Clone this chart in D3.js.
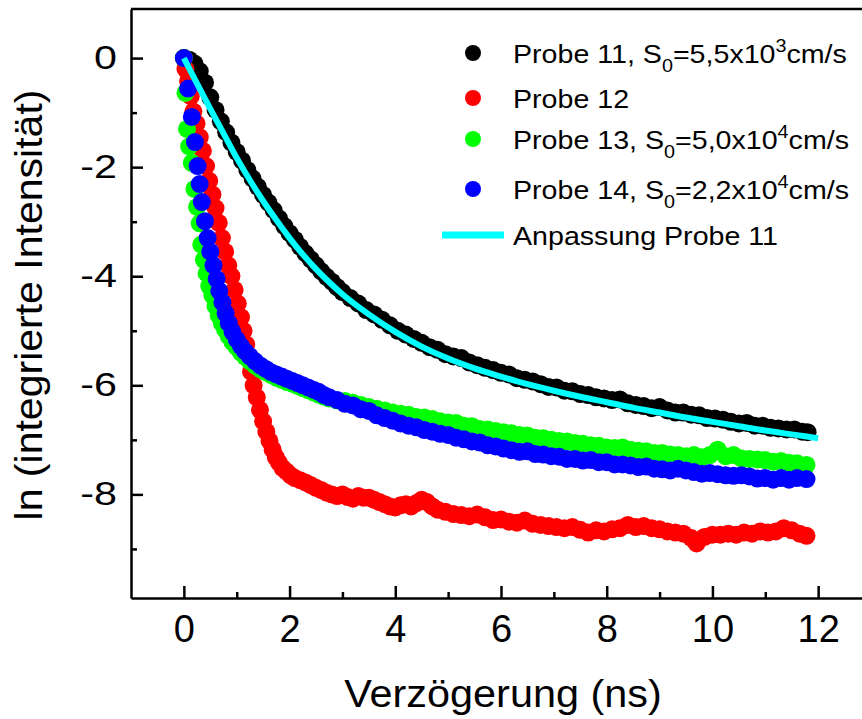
<!DOCTYPE html>
<html>
<head>
<meta charset="utf-8">
<script src="https://cdn.jsdelivr.net/npm/d3@7"></script>
<style>
  body { margin: 0; background: #fff; }
  svg { display: block; font-family: "Liberation Sans", Arial, sans-serif; }
</style>
</head>
<body>
<div id="chart"></div>
<script>
let width = 862, height = 719;

// tick values
const xTicks = [0, 2, 4, 6, 8, 10, 12];
const xMinor = [1, 3, 5, 7, 9, 11];
const yTicks = [0, -2, -4, -6, -8];
const yMinor = [-1, -3, -5, -7, -9];

// [delay (ns), ln(integrated intensity)]
const probe11 = [[0,0],[0.1,-0.03],[0.2,-0.1],[0.3,-0.24],[0.4,-0.45],[0.5,-0.72],[0.6,-0.95],[0.7,-1.16],[0.8,-1.36],[0.9,-1.55],
  [1.0,-1.72],[1.1,-1.88],[1.2,-2.05],[1.3,-2.21],[1.4,-2.36],[1.5,-2.51],[1.6,-2.65],[1.7,-2.79],[1.8,-2.94],[1.9,-3.08],
  [2.0,-3.21],[2.1,-3.33],[2.2,-3.46],[2.3,-3.58],[2.4,-3.69],[2.5,-3.8],[2.6,-3.91],[2.7,-4.01],[2.8,-4.1],[2.9,-4.2],[3.0,-4.29],
  [3.15,-4.4],[3.3,-4.5],[3.45,-4.62],[3.6,-4.7],[3.75,-4.8],[3.9,-4.9],[4.05,-5.0],[4.2,-5.07],[4.35,-5.15],[4.5,-5.22],
  [4.65,-5.3],[4.8,-5.35],[4.95,-5.43],[5.1,-5.47],[5.25,-5.5],[5.4,-5.58],[5.55,-5.63],[5.7,-5.68],[5.85,-5.72],[6.0,-5.77],
  [6.15,-5.8],[6.3,-5.87],[6.45,-5.9],[6.6,-5.93],[6.75,-5.98],[6.9,-6.03],[7.05,-6.04],[7.2,-6.1],[7.35,-6.11],[7.5,-6.16],
  [7.65,-6.18],[7.8,-6.22],[7.95,-6.24],[8.1,-6.27],[8.25,-6.26],[8.4,-6.33],[8.55,-6.36],[8.7,-6.38],[8.85,-6.42],[9.0,-6.4],
  [9.15,-6.46],[9.3,-6.5],[9.45,-6.5],[9.6,-6.54],[9.75,-6.55],[9.9,-6.6],[10.05,-6.61],[10.2,-6.63],[10.35,-6.67],[10.5,-6.7],
  [10.65,-6.69],[10.8,-6.74],[10.95,-6.74],[11.1,-6.78],[11.25,-6.79],[11.4,-6.81],[11.55,-6.81],[11.7,-6.85],[11.8,-6.86]];

const probe12 = [[0,0],[0.03,-0.2],[0.08,-0.42],[0.13,-0.7],[0.18,-0.98],[0.24,-1.2],[0.3,-1.45],[0.36,-1.7],[0.42,-1.98],[0.48,-2.25],
  [0.54,-2.5],[0.6,-2.75],[0.66,-3.02],[0.72,-3.3],[0.78,-3.55],[0.84,-3.8],[0.9,-4.0],[0.96,-4.25],[1.02,-4.5],[1.08,-4.75],
  [1.13,-5.0],[1.18,-5.25],[1.22,-5.5],[1.27,-5.75],[1.32,-6.0],[1.38,-6.22],[1.44,-6.45],[1.5,-6.66],[1.56,-6.85],[1.62,-7.02],
  [1.68,-7.18],[1.74,-7.32],[1.8,-7.42],[1.87,-7.52],[1.94,-7.58],[2.02,-7.65],[2.1,-7.7],[2.2,-7.74],[2.3,-7.78],[2.4,-7.83],
  [2.5,-7.88],[2.6,-7.92],[2.7,-7.97],[2.8,-8.0],[2.9,-8.03],[3.0,-8.0],[3.1,-8.05],[3.2,-8.08],[3.3,-8.03],[3.4,-8.06],
  [3.5,-8.06],[3.6,-8.1],[3.7,-8.14],[3.8,-8.18],[3.9,-8.22],[4.0,-8.24],[4.1,-8.2],[4.2,-8.18],[4.3,-8.22],[4.4,-8.16],
  [4.5,-8.1],[4.6,-8.14],[4.7,-8.22],[4.8,-8.28],[4.95,-8.32],[5.1,-8.36],[5.25,-8.38],[5.4,-8.4],[5.55,-8.37],[5.7,-8.42],
  [5.85,-8.47],[6.0,-8.46],[6.15,-8.5],[6.3,-8.52],[6.45,-8.48],[6.6,-8.54],[6.75,-8.56],[6.9,-8.58],[7.05,-8.6],[7.2,-8.62],
  [7.35,-8.6],[7.5,-8.65],[7.65,-8.7],[7.8,-8.66],[7.95,-8.68],[8.1,-8.64],[8.25,-8.62],[8.4,-8.56],[8.55,-8.6],[8.7,-8.58],
  [8.85,-8.62],[9.0,-8.64],[9.15,-8.68],[9.3,-8.7],[9.45,-8.72],[9.6,-8.8],[9.7,-8.9],[9.85,-8.78],[10.0,-8.74],[10.15,-8.74],
  [10.3,-8.72],[10.45,-8.74],[10.6,-8.7],[10.75,-8.72],[10.9,-8.68],[11.05,-8.7],[11.2,-8.68],[11.35,-8.62],[11.5,-8.66],[11.65,-8.72],
  [11.78,-8.76]];

const probe13 = [[0,0],[0.03,-0.64],[0.06,-1.3],[0.1,-1.62],[0.15,-1.92],[0.2,-2.4],[0.25,-2.73],[0.3,-3.03],[0.33,-3.42],[0.38,-3.7],
  [0.43,-3.95],[0.48,-4.18],[0.54,-4.35],[0.6,-4.55],[0.66,-4.72],[0.72,-4.86],[0.78,-4.98],[0.85,-5.1],[0.92,-5.21],[1.0,-5.3],
  [1.08,-5.4],[1.16,-5.48],[1.25,-5.56],[1.35,-5.64],[1.45,-5.71],[1.55,-5.76],[1.65,-5.81],[1.75,-5.86],[1.85,-5.9],[1.95,-5.94],
  [2.05,-5.97],[2.15,-6.01],[2.25,-6.05],[2.35,-6.09],[2.45,-6.13],[2.55,-6.17],[2.65,-6.21],[2.75,-6.24],[2.9,-6.28],[3.05,-6.29],
  [3.2,-6.32],[3.35,-6.36],[3.5,-6.4],[3.65,-6.43],[3.8,-6.46],[3.95,-6.5],[4.1,-6.52],[4.25,-6.54],[4.4,-6.58],[4.55,-6.59],
  [4.7,-6.62],[4.85,-6.66],[5.0,-6.68],[5.15,-6.69],[5.3,-6.74],[5.45,-6.75],[5.6,-6.8],[5.75,-6.81],[5.9,-6.84],[6.05,-6.86],
  [6.2,-6.88],[6.35,-6.91],[6.5,-6.92],[6.65,-6.96],[6.8,-6.97],[6.95,-7.0],[7.1,-7.02],[7.25,-7.03],[7.4,-7.06],[7.55,-7.07],
  [7.7,-7.1],[7.85,-7.11],[8.0,-7.14],[8.15,-7.15],[8.3,-7.14],[8.45,-7.18],[8.6,-7.2],[8.75,-7.21],[8.9,-7.24],[9.05,-7.24],
  [9.2,-7.27],[9.35,-7.28],[9.5,-7.3],[9.65,-7.28],[9.8,-7.32],[9.95,-7.28],[10.1,-7.18],[10.25,-7.3],[10.4,-7.28],[10.55,-7.34],
  [10.7,-7.35],[10.85,-7.36],[11.0,-7.37],[11.15,-7.4],[11.3,-7.39],[11.45,-7.42],[11.6,-7.43],[11.78,-7.46]];

const probe14 = [[0,0],[0.08,-0.56],[0.15,-1.08],[0.21,-1.54],[0.26,-1.98],[0.3,-2.31],[0.34,-2.64],[0.4,-2.99],[0.45,-3.3],[0.5,-3.55],
  [0.56,-3.8],[0.62,-4.05],[0.67,-4.27],[0.73,-4.48],[0.79,-4.68],[0.85,-4.86],[0.92,-5.02],[1.0,-5.16],[1.08,-5.28],[1.16,-5.38],
  [1.25,-5.47],[1.35,-5.56],[1.45,-5.64],[1.55,-5.7],[1.65,-5.76],[1.75,-5.8],[1.85,-5.84],[1.95,-5.88],[2.05,-5.92],[2.15,-5.96],
  [2.25,-6.0],[2.35,-6.04],[2.45,-6.08],[2.55,-6.12],[2.65,-6.18],[2.75,-6.22],[2.9,-6.27],[3.05,-6.34],[3.2,-6.37],[3.35,-6.44],
  [3.5,-6.47],[3.65,-6.55],[3.8,-6.6],[3.95,-6.65],[4.1,-6.7],[4.25,-6.74],[4.4,-6.77],[4.55,-6.82],[4.7,-6.85],[4.85,-6.89],
  [5.0,-6.91],[5.15,-6.96],[5.3,-6.99],[5.45,-7.03],[5.6,-7.05],[5.75,-7.1],[5.9,-7.12],[6.05,-7.16],[6.2,-7.19],[6.35,-7.22],
  [6.5,-7.21],[6.65,-7.26],[6.8,-7.27],[6.95,-7.3],[7.1,-7.31],[7.25,-7.35],[7.4,-7.35],[7.55,-7.38],[7.7,-7.37],[7.85,-7.41],
  [8.0,-7.41],[8.15,-7.45],[8.3,-7.45],[8.45,-7.47],[8.6,-7.5],[8.75,-7.49],[8.9,-7.53],[9.05,-7.54],[9.2,-7.56],[9.35,-7.53],
  [9.5,-7.56],[9.65,-7.59],[9.8,-7.62],[9.95,-7.61],[10.1,-7.63],[10.25,-7.65],[10.4,-7.66],[10.55,-7.65],[10.7,-7.67],[10.85,-7.71],
  [11.0,-7.7],[11.15,-7.73],[11.3,-7.7],[11.45,-7.73],[11.6,-7.7],[11.78,-7.72]];

// fit curve for Probe 11
const fit11 = [[0,0],[0.25,-0.47],[0.5,-0.93],[0.75,-1.38],[1.0,-1.83],[1.25,-2.24],[1.5,-2.62],[1.75,-2.97],[2.0,-3.3],
  [2.25,-3.6],[2.5,-3.87],[2.75,-4.11],[3.0,-4.33],[3.5,-4.7],[4.0,-5.02],[4.5,-5.29],[5.0,-5.51],[5.5,-5.69],[6.0,-5.84],
  [6.5,-5.98],[7.0,-6.1],[7.5,-6.21],[8.0,-6.31],[8.5,-6.41],[9.0,-6.5],[9.5,-6.59],[10.0,-6.67],[10.5,-6.75],[11.0,-6.83],
  [11.5,-6.9],[12.0,-6.97]];

const series = [
  { data: probe11, color: "#000000" },
  { data: probe12, color: "#ff0000" },
  { data: probe13, color: "#00ff00" },
  { data: probe14, color: "#0000ff" }
];

const svg = d3.select("#chart")
  .append("svg")
  .attr("width", width)
  .attr("height", height);

let x = d3.scaleLinear().domain([-1, 13]).range([131, 871]);
let y = d3.scaleLinear().domain([-9.9, 0.9]).range([598, 9]);

// axes, ticks pointing inward
const xAxis = svg.append("g")
  .attr("transform", `translate(0,${y.range()[0]})`)
  .call(d3.axisBottom(x).tickValues(xTicks).tickSize(-12).tickSizeOuter(0).tickPadding(17).tickFormat(d => d));
svg.append("g")
  .attr("transform", `translate(0,${y.range()[0]})`)
  .call(d3.axisBottom(x).tickValues(xMinor).tickSize(-6).tickSizeOuter(0).tickFormat(""))
  .call(g => g.select(".domain").remove());

const yAxis = svg.append("g")
  .attr("transform", `translate(${x.range()[0]},0)`)
  .call(d3.axisLeft(y).tickValues(yTicks).tickSize(-12).tickSizeOuter(0).tickPadding(14).tickFormat(d => d));
svg.append("g")
  .attr("transform", `translate(${x.range()[0]},0)`)
  .call(d3.axisLeft(y).tickValues(yMinor).tickSize(-6).tickSizeOuter(0).tickFormat(""))
  .call(g => g.select(".domain").remove());

svg.selectAll(".tick line, .domain").attr("stroke", "#000").attr("stroke-width", 2.5);

xAxis.selectAll("text").attr("font-size", 38).attr("fill", "#000");
yAxis.selectAll("text")
  .attr("font-size", 33).attr("fill", "#000")
  .attr("x", 0)
  .attr("transform", "translate(-14,0) scale(1.25,1)");

// top frame line
svg.append("line")
  .attr("x1", x.range()[0]).attr("x2", x.range()[1])
  .attr("y1", y.range()[1]).attr("y2", y.range()[1])
  .attr("stroke", "#000").attr("stroke-width", 2.5);

// scatter points
series.forEach(s => {
  svg.append("g")
    .attr("fill", s.color)
    .selectAll("circle")
    .data(s.data)
    .join("circle")
    .attr("cx", d => x(d[0]))
    .attr("cy", d => y(d[1]))
    .attr("r", 9);
});

// fit line
svg.append("path")
  .datum(fit11)
  .attr("fill", "none")
  .attr("stroke", "#00ffff")
  .attr("stroke-width", 6)
  .attr("d", d3.line().x(d => x(d[0])).y(d => y(d[1])).curve(d3.curveMonotoneX));

// axis titles
svg.append("text")
  .attr("transform", "translate(503,707) scale(1.09,1)")
  .attr("text-anchor", "middle")
  .attr("font-size", 38)
  .text("Verzögerung (ns)");

svg.append("text")
  .attr("transform", "translate(42,305) rotate(-90) scale(1.08,1)")
  .attr("text-anchor", "middle")
  .attr("font-size", 38)
  .text("ln (integrierte Intensität)");

// legend
const legendY = [53, 98, 139, 189];
const legendItems = [
  { name: "Probe 11, S", sub: "0", val: "=5,5x10", sup: "3", unit: "cm/s" },
  { name: "Probe 12" },
  { name: "Probe 13, S", sub: "0", val: "=5,0x10", sup: "4", unit: "cm/s" },
  { name: "Probe 14, S", sub: "0", val: "=2,2x10", sup: "4", unit: "cm/s" }
];

const legend = svg.append("g");
legendItems.forEach((item, i) => {
  legend.append("circle")
    .attr("cx", 473).attr("cy", legendY[i]).attr("r", 8)
    .attr("fill", series[i].color);
  const t = legend.append("text")
    .attr("transform", `translate(513,${legendY[i] + 10}) scale(1.1,1)`)
    .attr("font-size", 26);
  t.append("tspan").text(item.name);
  if (item.sub) {
    t.append("tspan").attr("font-size", 18).attr("dy", 9).text(item.sub);
    t.append("tspan").attr("dy", -9).text(item.val);
    t.append("tspan").attr("font-size", 18).attr("dy", -11).text(item.sup);
    t.append("tspan").attr("dy", 11).text(item.unit);
  }
});
legend.append("line")
  .attr("x1", 442).attr("x2", 504).attr("y1", 235).attr("y2", 235)
  .attr("stroke", "#00ffff").attr("stroke-width", 7);
legend.append("text")
  .attr("transform", "translate(513,245) scale(1.1,1)")
  .attr("font-size", 26)
  .text("Anpassung Probe 11");
</script>
</body>
</html>
